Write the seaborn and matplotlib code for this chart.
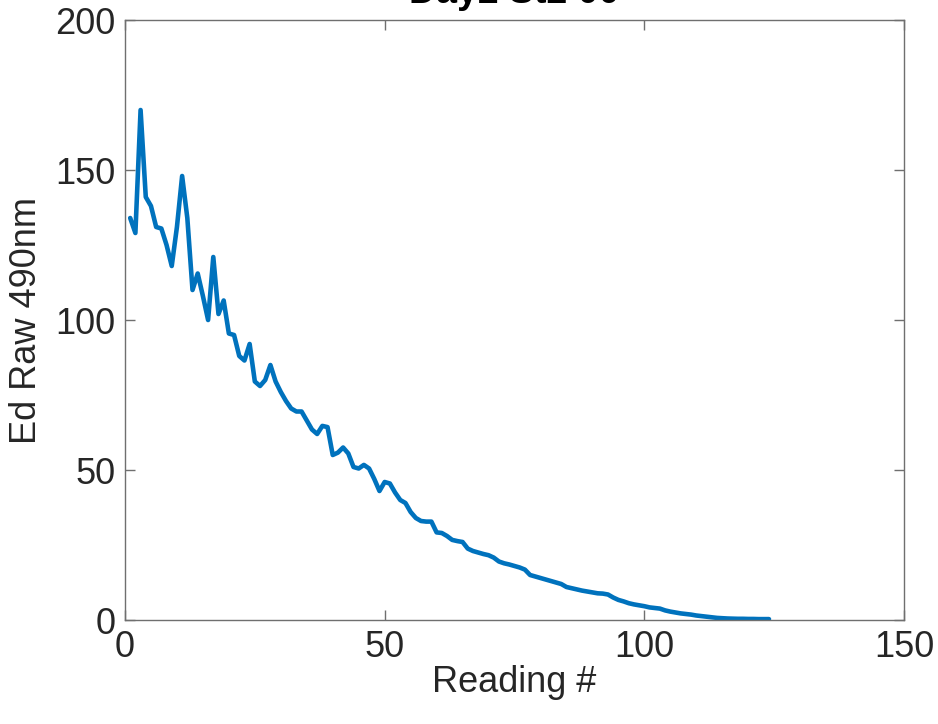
import matplotlib
matplotlib.use("Agg")
import matplotlib.pyplot as plt
import seaborn as sns
import pandas as pd
import numpy as np

title = "Day2 St2 00"
xlabel = "Reading #"
ylabel = "Ed Raw 490nm"
xticks = [0, 50, 100, 150]
yticks = [0, 50, 100, 150, 200]

ed_raw = [
    134, 129, 170, 141, 138, 131, 130.5, 125, 118, 131,      # 1-10
    148, 134, 110, 115.5, 108, 100, 121, 102, 106.5, 95.5,   # 11-20
    95, 88, 86.5, 92, 79.5, 78, 80, 85, 79.5, 76,            # 21-30
    73, 70.5, 69.5, 69.5, 66.5, 63.5, 62, 64.7, 64.3, 55,    # 31-40
    55.8, 57.5, 55.5, 51, 50.5, 51.7, 50.5, 47, 43, 46,      # 41-50
    45.5, 42.5, 40, 39, 36, 34, 33, 32.8, 32.8, 29.2,        # 51-60
    29, 28, 26.7, 26.3, 26, 23.8, 23, 22.5, 22, 21.6,        # 61-70
    20.8, 19.5, 18.9, 18.5, 18, 17.5, 16.8, 15, 14.5, 14,    # 71-80
    13.5, 13, 12.5, 12, 11, 10.6, 10.2, 9.8, 9.5, 9.2,       # 81-90
    8.9, 8.8, 8.5, 7.5, 6.7, 6.2, 5.6, 5.2, 4.9, 4.6,        # 91-100
    4.2, 4.0, 3.8, 3.2, 2.8, 2.5, 2.2, 2.0, 1.8, 1.5,        # 101-110
    1.3, 1.1, 0.9, 0.7, 0.6, 0.5, 0.45, 0.4, 0.4, 0.35,      # 111-120
    0.35, 0.3, 0.3, 0.3,                                     # 121-124
]
reading = list(range(1, len(ed_raw) + 1))

df = pd.DataFrame({"Reading": reading, "Ed": ed_raw})

sns.set_theme(style="white")
plt.rcParams["font.family"] = ["Liberation Sans", "DejaVu Sans"]

fig = plt.figure(figsize=(9.38, 7.24), dpi=100)
ax = fig.add_axes([125 / 938, 104 / 724, 779 / 938, 600 / 724])

sns.lineplot(data=df, x="Reading", y="Ed", ax=ax, color="#0072BD", linewidth=3.3)

ax.set_xlim(0, 150)
ax.set_ylim(0, 200)
ax.set_xticks(xticks)
ax.set_yticks(yticks)

frame_col = "#6f6f6f"
for s in ax.spines.values():
    s.set_visible(True)
    s.set_color(frame_col)
    s.set_linewidth(1.0)

ax.tick_params(axis="both", which="both", direction="in", length=7, width=1.0,
               color=frame_col, labelsize=26, labelcolor="#262626",
               top=True, right=True, bottom=True, left=True, pad=7)

ax.set_xlabel(xlabel, fontsize=26, color="#262626", labelpad=0)
ax.set_ylabel(ylabel, fontsize=26, color="#262626", labelpad=8)
ax.set_title(title, fontsize=27, fontweight="bold", color="black", pad=12)

fig.savefig("out.png", dpi=100)
